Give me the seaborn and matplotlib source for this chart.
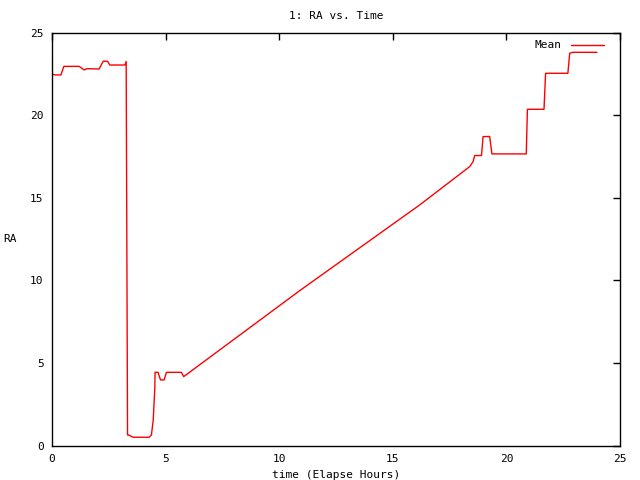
import numpy as np
import pandas as pd
import matplotlib
matplotlib.use("Agg")
import matplotlib.pyplot as plt
import seaborn as sns

# elapsed hours and mean RA
hours = [0.0, 0.13, 0.4, 0.53, 1.2, 1.42, 1.55, 2.08, 2.26, 2.45, 2.55, 3.21,
         3.27, 3.33, 3.36, 3.58, 4.28, 4.38, 4.46, 4.53, 4.54, 4.67, 4.78,
         4.94, 5.04, 5.7, 5.8, 7.83, 10.9, 16.18, 18.38, 18.53,
         18.6, 18.9, 18.97, 19.26, 19.36, 20.87, 20.92, 21.65, 21.72, 22.7,
         22.78, 22.92, 23.98]
ra_mean = [22.5, 22.44, 22.44, 22.96, 22.96, 22.74, 22.82, 22.8, 23.27, 23.27,
           23.04, 23.04, 23.25, 0.65, 0.65, 0.51, 0.51, 0.65, 1.55, 3.47, 4.44,
           4.44, 3.98, 3.98, 4.44, 4.44, 4.18, 6.25, 9.38, 14.57,
           16.89, 17.19, 17.56, 17.56, 18.71, 18.71, 17.66, 17.66, 20.36,
           20.36, 22.54, 22.54, 23.75, 23.81, 23.81]

df = pd.DataFrame({"time": hours, "RA": ra_mean, "series": "Mean"})

sns.set_style("white")
plt.rcParams["font.family"] = ["DejaVu Sans Mono"]
plt.rcParams["font.size"] = 8
plt.rcParams["text.color"] = "black"
plt.rcParams["axes.labelcolor"] = "black"

fig = plt.figure(figsize=(6.4, 4.8), dpi=100)
ax = fig.add_axes([0.081, 0.0715, 0.888, 0.8605])

sns.lineplot(data=df, x="time", y="RA", hue="series", palette=["#ff0000"],
             linewidth=1.0, ax=ax, estimator=None, sort=False)

ax.set_xlim(0, 25)
ax.set_ylim(0, 25)
ax.set_xticks([0, 5, 10, 15, 20, 25])
ax.set_yticks([0, 5, 10, 15, 20, 25])
ax.tick_params(direction="in", length=5, width=1, top=True, right=True,
               labelsize=8, colors="black", pad=6)
for s in ax.spines.values():
    s.set_color("black")
    s.set_linewidth(1)

ax.set_title("1: RA vs. Time", fontsize=8, pad=10, color="black")
ax.set_xlabel("time (Elapse Hours)", fontsize=8, labelpad=4)
ax.set_ylabel("RA", fontsize=8, rotation=0, va="center", ha="center")
ax.yaxis.set_label_coords(-0.074, 0.5)

leg = ax.legend(loc="upper right", frameon=False, fontsize=8,
                markerfirst=False, handlelength=3.0, borderaxespad=0.3,
                bbox_to_anchor=(0.985, 1.0))
leg.set_title(None)

fig.savefig("out.png", dpi=100)
